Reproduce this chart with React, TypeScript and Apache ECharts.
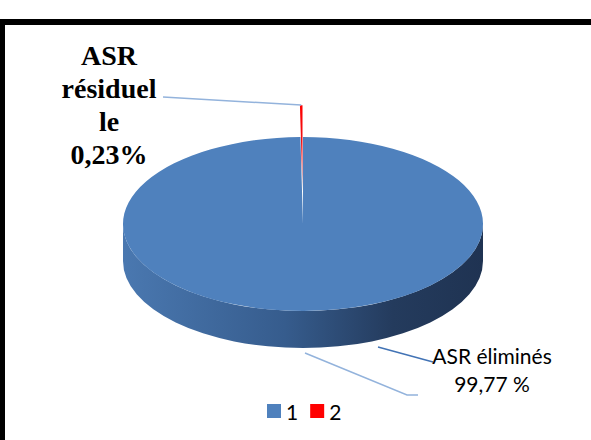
import { useEffect, useRef } from "react";
import * as echarts from "echarts";

// Legend entries and the share of each slice, in percent
const categories = ["1", "2"];
const shares = [99.77, 0.23];
const sliceColors = ["#4F81BD", "#FF0000"];
// Caption lines shown above each slice's percentage
const captions = [["ASR éliminés"], ["ASR", "résiduel", "le"]];
const percentSeparators = [" ", ""];

const WIDTH = 591;
const HEIGHT = 440;

// Tilted disc geometry
const CX = 303;
const CY = 224;
const RX = 180;
const RY = 87;
const DEPTH = 37;
// Outward offset of each slice, in disc-plane units
const EXPLODE = [0, 66];

const total = shares.reduce((a, b) => a + b, 0);

const formatShare = (v: number, sep: string) =>
  v.toFixed(2).replace(".", ",") + sep + "%";

const sideFills: any[] = [
  {
    type: "linear",
    x: 0,
    y: 0,
    x2: 1,
    y2: 0,
    colorStops: [
      { offset: 0, color: "#4A78B0" },
      { offset: 0.45, color: "#365C8D" },
      { offset: 0.75, color: "#243B5D" },
      { offset: 1, color: "#1F3352" },
    ],
  },
  "#A00000",
];

const topFills: any[] = [
  sliceColors[0],
  {
    type: "linear",
    x: 0,
    y: 0,
    x2: 0,
    y2: 1,
    colorStops: [
      { offset: 0, color: "#FF0000" },
      { offset: 0.6, color: "#E8161C" },
      { offset: 1, color: "#8494B0" },
    ],
  },
];

// Caption placement and styling per slice
const labelStyles: any[] = [
  {
    x: 492,
    y: 341,
    fontFamily: "Lato, 'Open Sans', sans-serif",
    fontSize: 21,
    fontWeight: "normal",
    lineHeight: 28,
  },
  {
    x: 109,
    y: 39,
    fontFamily: "'Liberation Serif', 'Times New Roman', serif",
    fontSize: 28,
    fontWeight: "bold",
    lineHeight: 33,
  },
];

const LIGHT_LEADER = "#93B3DC";
const DARK_LEADER = "#4273B5";

const ellipsePoint = (theta: number, ox: number, oy: number): number[] => [
  CX + ox + RX * Math.cos(theta),
  CY + oy + RY * Math.sin(theta),
];

const renderSlice = (params: any, api: any) => {
  const i = params.seriesIndex as number;
  const value = api.value(0) as number;
  const before = shares.slice(0, i).reduce((a, b) => a + b, 0);
  const a0 = -Math.PI / 2 + (before / total) * Math.PI * 2;
  const a1 = a0 + (value / total) * Math.PI * 2;
  const mid = (a0 + a1) / 2;
  const ox = Math.cos(mid) * EXPLODE[i];
  const oy = Math.sin(mid) * EXPLODE[i] * (RY / RX);
  const children: any[] = [];

  // Front wall of the disc: only the part facing the viewer (0..π)
  const s = Math.max(a0, 0);
  const e = Math.min(a1, Math.PI);
  if (e > s) {
    const [x0, y0] = ellipsePoint(s, ox, oy);
    const [x1, y1] = ellipsePoint(e, ox, oy);
    const d =
      `M ${x0} ${y0} L ${x0} ${y0 + DEPTH} ` +
      `A ${RX} ${RY} 0 0 1 ${x1} ${y1 + DEPTH} L ${x1} ${y1} ` +
      `A ${RX} ${RY} 0 0 0 ${x0} ${y0} Z`;
    children.push({
      type: "path",
      shape: { pathData: d },
      style: { fill: sideFills[i] },
    });
  }

  // Top face: a circular sector squashed into the ellipse
  children.push({
    type: "group",
    x: CX + ox,
    y: CY + oy,
    scaleY: RY / RX,
    children: [
      {
        type: "sector",
        shape: {
          cx: 0,
          cy: 0,
          r: RX,
          r0: 0,
          startAngle: a0,
          endAngle: a1,
          clockwise: true,
        },
        style: { fill: topFills[i] },
      },
    ],
  });

  // Leader lines and caption
  const ls = labelStyles[i];
  if (i === 0) {
    children.push({
      type: "polyline",
      shape: { points: [[378, 347], [433, 362]] },
      style: { stroke: DARK_LEADER, lineWidth: 1.5, fill: null },
    });
    children.push({
      type: "polyline",
      shape: { points: [[305, 353], [407, 395], [418, 395]] },
      style: { stroke: LIGHT_LEADER, lineWidth: 1.5, fill: null },
    });
  } else {
    const tip = ellipsePoint(mid, ox, oy);
    children.push({
      type: "polyline",
      shape: { points: [[163, 97], [tip[0], tip[1]]] },
      style: { stroke: LIGHT_LEADER, lineWidth: 1.5, fill: null },
    });
  }
  children.push({
    type: "text",
    x: ls.x,
    y: ls.y,
    style: {
      text: [...captions[i], formatShare(value, percentSeparators[i])].join("\n"),
      fill: "#000",
      fontFamily: ls.fontFamily,
      fontSize: ls.fontSize,
      fontWeight: ls.fontWeight,
      lineHeight: ls.lineHeight,
      align: "center",
      verticalAlign: "top",
    },
  });

  return { type: "group", children };
};

export default function App() {
  const ref = useRef<HTMLDivElement>(null);

  useEffect(() => {
    if (!ref.current) return;
    const chart = echarts.init(ref.current, undefined, { renderer: "svg" });
    chart.setOption({
      animation: false,
      backgroundColor: "#fff",
      legend: {
        data: categories,
        left: 267,
        top: 400,
        padding: 0,
        icon: "rect",
        itemWidth: 14,
        itemHeight: 14,
        itemGap: 12,
        selectedMode: false,
        textStyle: {
          fontFamily: "Lato, 'Open Sans', sans-serif",
          fontSize: 21,
          lineHeight: 22,
          color: "#000",
        },
      },
      series: categories.map((name, i) => ({
        type: "custom",
        name,
        coordinateSystem: "none",
        silent: true,
        itemStyle: { color: sliceColors[i] },
        renderItem: renderSlice,
        data: [[shares[i]]],
      })),
      graphic: [
        {
          type: "rect",
          silent: true,
          z: 100,
          shape: { x: 2, y: 22, width: 700, height: 600 },
          style: { fill: null, stroke: "#000", lineWidth: 6 },
        },
      ],
    });
    return () => chart.dispose();
  }, []);

  return (
    <div
      ref={ref}
      style={{
        position: "fixed",
        left: 0,
        top: 0,
        width: WIDTH,
        height: HEIGHT,
        background: "#fff",
      }}
    />
  );
}
